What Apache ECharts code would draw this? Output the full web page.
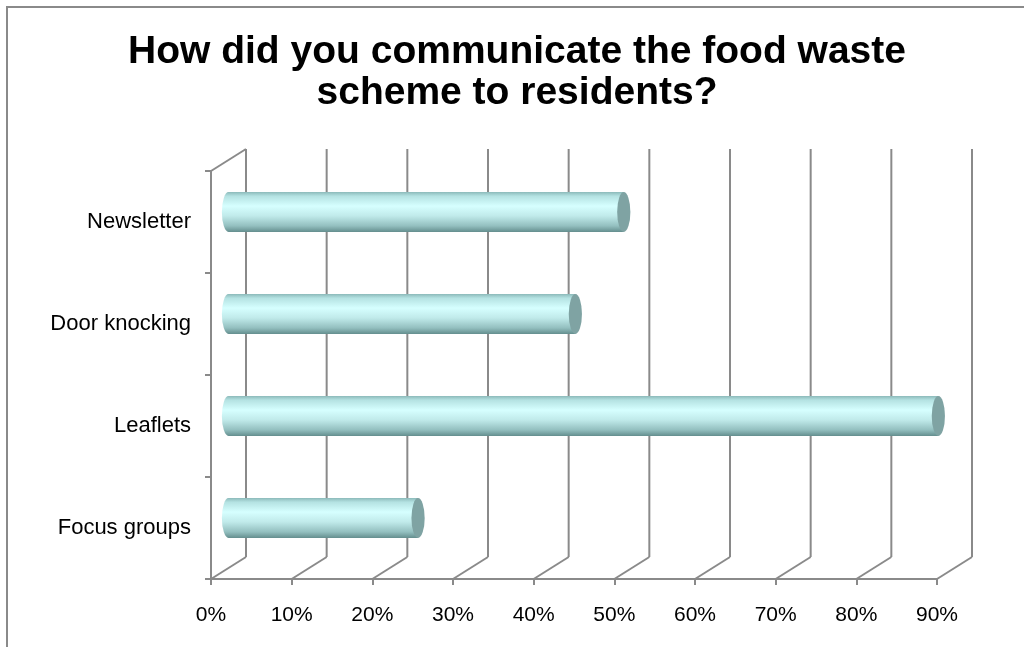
<!DOCTYPE html>
<html>
<head>
<meta charset="utf-8">
<script src="https://cdn.jsdelivr.net/npm/echarts@6/dist/echarts.min.js"></script>
<style>
html,body{margin:0;padding:0;background:#fff;}
#chart{width:1024px;height:647px;}
</style>
</head>
<body>
<div id="chart"></div>
<script>
const titleText = 'How did you communicate the food waste\nscheme to residents?';
const categories = ['Newsletter', 'Door knocking', 'Leaflets', 'Focus groups'];
const values = [49, 43, 88, 23.5];
const gridTicks = [0, 10, 20, 30, 40, 50, 60, 70, 80, 90];

const DX = 35, DY = -22;          // depth offset of back wall
const LINE = '#8a8a8a';
const FONT = "'Liberation Sans', Arial, sans-serif";

const chart = echarts.init(document.getElementById('chart'), null, {renderer: 'canvas'});

const bodyGrad = new echarts.graphic.LinearGradient(0, 0, 0, 1, [
  {offset: 0, color: '#8dbbbb'},
  {offset: 0.1, color: '#b4e2e2'},
  {offset: 0.35, color: '#d6ffff'},
  {offset: 0.6, color: '#c0eaea'},
  {offset: 0.85, color: '#93bfbf'},
  {offset: 1, color: '#658f8f'}
]);

chart.setOption({
  animation: false,
  backgroundColor: '#fff',
  title: {
    text: titleText,
    left: 517,
    textAlign: 'center',
    top: 32,
    padding: 0,
    textStyle: {fontFamily: FONT, fontSize: 39, fontWeight: 'bold', color: '#000', lineHeight: 41}
  },
  graphic: [{
    type: 'rect',
    shape: {x: 7, y: 7, width: 1100, height: 700},
    style: {fill: 'none', stroke: LINE, lineWidth: 2},
    silent: true
  }],
  grid: {left: 211, right: 87, top: 171, bottom: 68},
  xAxis: {
    type: 'value', min: 0, max: 90, interval: 10,
    axisLine: {show: true, lineStyle: {color: LINE, width: 2}},
    axisTick: {show: true, length: 6, lineStyle: {color: LINE, width: 2}},
    splitLine: {show: false},
    axisLabel: {formatter: '{value}%', color: '#000', fontFamily: FONT, fontSize: 21, margin: 26}
  },
  yAxis: {
    type: 'category', data: categories, inverse: true,
    axisLine: {show: true, lineStyle: {color: LINE, width: 2}},
    axisTick: {show: true, length: 6, lineStyle: {color: LINE, width: 2}},
    axisLabel: {color: '#000', fontFamily: FONT, fontSize: 22, margin: 20}
  },
  series: [
    {
      type: 'custom',
      z: 1,
      silent: true,
      data: gridTicks.map(v => [v, 0]),
      encode: {x: 0, y: 1},
      renderItem: function (params, api) {
        const cs = params.coordSys;
        const fx = api.coord([api.value(0), 0])[0];
        const top = cs.y, bottom = cs.y + cs.height;
        const st = {stroke: LINE, lineWidth: 2};
        const children = [
          {type: 'line', shape: {x1: fx, y1: bottom, x2: fx + DX, y2: bottom + DY}, style: st},
          {type: 'line', shape: {x1: fx + DX, y1: bottom + DY, x2: fx + DX, y2: top + DY}, style: st}
        ];
        if (params.dataIndex === 0) {
          children.push({type: 'line', shape: {x1: fx, y1: top, x2: fx + DX, y2: top + DY}, style: st});
        }
        return {type: 'group', children: children};
      }
    },
    {
      type: 'custom',
      z: 3,
      data: values.map((v, i) => [v, i]),
      encode: {x: 0, y: 1},
      renderItem: function (params, api) {
        const idx = api.value(1);
        const s = api.coord([0, idx]);
        const e = api.coord([api.value(0), idx]);
        const sx = s[0] + DX / 2, ex = e[0] + DX / 2, cy = s[1] + DY / 2 + 1;
        const h = api.size([0, 1])[1] * 0.39;
        const ry = h / 2, rx = 6.6;
        return {
          type: 'group',
          children: [
            {type: 'circle', shape: {cx: 0, cy: 0, r: ry}, x: sx, y: cy, scaleX: rx / ry,
             style: {fill: bodyGrad}},
            {type: 'rect', shape: {x: sx, y: cy - ry, width: ex - sx, height: h},
             style: {fill: bodyGrad}},
            {type: 'circle', shape: {cx: 0, cy: 0, r: ry}, x: ex, y: cy, scaleX: rx / ry,
             style: {fill: '#7fa3a3'}}
          ]
        };
      }
    }
  ]
});
</script>
</body>
</html>
